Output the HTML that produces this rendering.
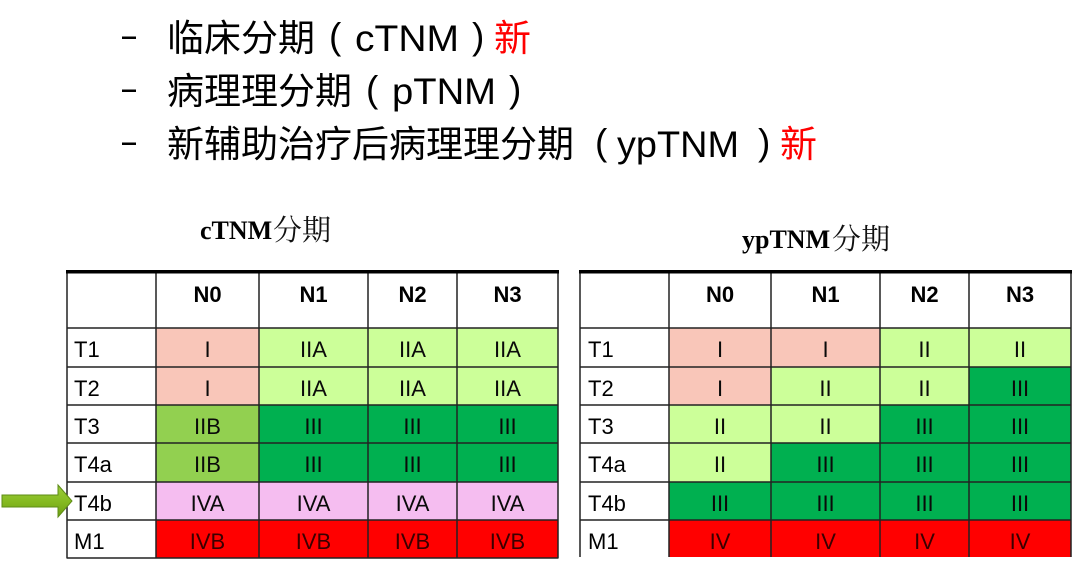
<!DOCTYPE html>
<html>
<head>
<meta charset="utf-8">
<style>
  html, body { margin: 0; padding: 0; background: #ffffff; }
  body { width: 1080px; height: 568px; overflow: hidden; }
  svg { display: block; }
  .cjk { font-family: "Liberation Sans", "Noto Sans CJK SC", sans-serif; font-size: 37px; fill: #000; }
  .lat { font-family: "Liberation Sans", sans-serif; font-size: 37px; fill: #000; }
  .red { fill: #ff0000; }
  .tlat { font-family: "Liberation Serif", serif; font-weight: bold; font-size: 26px; fill: #000; }
  .tcjk { font-family: "Liberation Serif", "Noto Serif CJK SC", serif; font-size: 29px; fill: #111; }
  .cell { font-family: "Liberation Sans", sans-serif; font-size: 22px; fill: #0a0a0a; text-anchor: middle; }
  .hdr { font-family: "Liberation Sans", sans-serif; font-size: 22px; font-weight: bold; fill: #000; text-anchor: middle; }
  .lbl { font-family: "Liberation Sans", sans-serif; font-size: 22px; fill: #000; }
</style>
</head>
<body>
<svg width="1080" height="568" viewBox="0 0 1080 568" xmlns="http://www.w3.org/2000/svg">
  <defs>
    <linearGradient id="ag" x1="0" y1="0" x2="0" y2="1">
      <stop offset="0" stop-color="#9ccd3c"/>
      <stop offset="0.5" stop-color="#86bb22"/>
      <stop offset="1" stop-color="#6e9f12"/>
    </linearGradient>
  </defs>

  <!-- Top bullet lines -->
  <rect x="122" y="36.5" width="14" height="2.5" fill="#000"/>
  <text class="cjk" x="167" y="51">临床分期</text>
  <text class="lat" x="329" y="49">(</text>
  <text class="lat" x="355" y="51" textLength="104" lengthAdjust="spacingAndGlyphs">cTNM</text>
  <text class="lat" x="472" y="49">)</text>
  <text class="cjk red" x="494" y="51">新</text>

  <rect x="122" y="89.5" width="14" height="2.5" fill="#000"/>
  <text class="cjk" x="167" y="104">病理理分期</text>
  <text class="lat" x="366" y="102">(</text>
  <text class="lat" x="392" y="104" textLength="104" lengthAdjust="spacingAndGlyphs">pTNM</text>
  <text class="lat" x="509" y="102">)</text>

  <rect x="122" y="142.5" width="14" height="2.5" fill="#000"/>
  <text class="cjk" x="167" y="157">新辅助治疗后病理理分期</text>
  <text class="lat" x="595" y="155">(</text>
  <text class="lat" x="617" y="157" textLength="122" lengthAdjust="spacingAndGlyphs">ypTNM</text>
  <text class="lat" x="758" y="155">)</text>
  <text class="cjk red" x="780" y="157">新</text>

  <!-- Titles -->
  <text x="200" y="239"><tspan class="tlat">cTNM</tspan><tspan class="tcjk" x="273" y="240">分期</tspan></text>
  <text x="742" y="248"><tspan class="tlat">ypTNM</tspan><tspan class="tcjk" x="832" y="249">分期</tspan></text>

  <!-- ===== Left table backgrounds ===== -->
  <g>
    <rect x="156" y="328" width="103" height="77" fill="#f9c6b9"/>
    <rect x="259" y="328" width="299" height="77" fill="#ccff99"/>
    <rect x="156" y="405" width="103" height="77" fill="#92d050"/>
    <rect x="259" y="405" width="299" height="77" fill="#00b050"/>
    <rect x="156" y="482" width="402" height="38" fill="#f5bdf0"/>
    <rect x="156" y="520" width="402" height="38" fill="#ff0000"/>
  </g>

  <!-- ===== Right table backgrounds ===== -->
  <g>
    <rect x="669" y="328" width="211" height="39" fill="#f9c6b9"/>
    <rect x="880" y="328" width="191" height="39" fill="#ccff99"/>
    <rect x="669" y="367" width="102" height="38" fill="#f9c6b9"/>
    <rect x="771" y="367" width="198" height="38" fill="#ccff99"/>
    <rect x="969" y="367" width="102" height="38" fill="#00b050"/>
    <rect x="669" y="405" width="211" height="38" fill="#ccff99"/>
    <rect x="880" y="405" width="191" height="38" fill="#00b050"/>
    <rect x="669" y="443" width="102" height="39" fill="#ccff99"/>
    <rect x="771" y="443" width="300" height="39" fill="#00b050"/>
    <rect x="669" y="482" width="402" height="38" fill="#00b050"/>
    <rect x="669" y="520" width="402" height="37" fill="#ff0000"/>
  </g>

  <!-- ===== Grid lines left ===== -->
  <g stroke="#222" stroke-width="1.5" fill="none">
    <line x1="67" y1="272" x2="67" y2="558.5"/>
    <line x1="156" y1="272" x2="156" y2="558.5"/>
    <line x1="259" y1="272" x2="259" y2="558.5"/>
    <line x1="368" y1="272" x2="368" y2="558.5"/>
    <line x1="457" y1="272" x2="457" y2="558.5"/>
    <line x1="558" y1="272" x2="558" y2="558.5"/>
    <line x1="67" y1="328" x2="558" y2="328"/>
    <line x1="67" y1="367" x2="558" y2="367"/>
    <line x1="67" y1="405" x2="558" y2="405"/>
    <line x1="67" y1="443" x2="558" y2="443"/>
    <line x1="67" y1="482" x2="558" y2="482"/>
    <line x1="67" y1="520" x2="558" y2="520"/>
    <line x1="67" y1="558" x2="558" y2="558"/>
  </g>
  <rect x="66" y="270" width="493" height="3.5" fill="#000"/>

  <!-- ===== Grid lines right ===== -->
  <g stroke="#222" stroke-width="1.5" fill="none">
    <line x1="580" y1="272" x2="580" y2="557"/>
    <line x1="669" y1="272" x2="669" y2="557"/>
    <line x1="771" y1="272" x2="771" y2="557"/>
    <line x1="880" y1="272" x2="880" y2="557"/>
    <line x1="969" y1="272" x2="969" y2="557"/>
    <line x1="1071" y1="272" x2="1071" y2="557"/>
    <line x1="580" y1="328" x2="1071" y2="328"/>
    <line x1="580" y1="367" x2="1071" y2="367"/>
    <line x1="580" y1="405" x2="1071" y2="405"/>
    <line x1="580" y1="443" x2="1071" y2="443"/>
    <line x1="580" y1="482" x2="1071" y2="482"/>
    <line x1="580" y1="520" x2="1071" y2="520"/>
  </g>
  <rect x="579" y="270" width="493" height="3.5" fill="#000"/>

  <!-- ===== Left table text ===== -->
  <text class="hdr" x="207.5" y="302">N0</text>
  <text class="hdr" x="313.5" y="302">N1</text>
  <text class="hdr" x="412.5" y="302">N2</text>
  <text class="hdr" x="507.5" y="302">N3</text>

  <text class="lbl" x="74" y="357">T1</text>
  <text class="lbl" x="74" y="396">T2</text>
  <text class="lbl" x="74" y="434">T3</text>
  <text class="lbl" x="74" y="472">T4a</text>
  <text class="lbl" x="74" y="511">T4b</text>
  <text class="lbl" x="74" y="549">M1</text>

  <text class="cell" x="207.5" y="357">I</text>
  <text class="cell" x="313.5" y="357">IIA</text>
  <text class="cell" x="412.5" y="357">IIA</text>
  <text class="cell" x="507.5" y="357">IIA</text>

  <text class="cell" x="207.5" y="396">I</text>
  <text class="cell" x="313.5" y="396">IIA</text>
  <text class="cell" x="412.5" y="396">IIA</text>
  <text class="cell" x="507.5" y="396">IIA</text>

  <text class="cell" x="207.5" y="434">IIB</text>
  <text class="cell" x="313.5" y="434">III</text>
  <text class="cell" x="412.5" y="434">III</text>
  <text class="cell" x="507.5" y="434">III</text>

  <text class="cell" x="207.5" y="472">IIB</text>
  <text class="cell" x="313.5" y="472">III</text>
  <text class="cell" x="412.5" y="472">III</text>
  <text class="cell" x="507.5" y="472">III</text>

  <text class="cell" x="207.5" y="511">IVA</text>
  <text class="cell" x="313.5" y="511">IVA</text>
  <text class="cell" x="412.5" y="511">IVA</text>
  <text class="cell" x="507.5" y="511">IVA</text>

  <text class="cell" x="207.5" y="549" style="fill:#3a0000">IVB</text>
  <text class="cell" x="313.5" y="549" style="fill:#3a0000">IVB</text>
  <text class="cell" x="412.5" y="549" style="fill:#3a0000">IVB</text>
  <text class="cell" x="507.5" y="549" style="fill:#3a0000">IVB</text>

  <!-- ===== Right table text ===== -->
  <text class="hdr" x="720" y="302">N0</text>
  <text class="hdr" x="825.5" y="302">N1</text>
  <text class="hdr" x="924.5" y="302">N2</text>
  <text class="hdr" x="1020" y="302">N3</text>

  <text class="lbl" x="588" y="357">T1</text>
  <text class="lbl" x="588" y="396">T2</text>
  <text class="lbl" x="588" y="434">T3</text>
  <text class="lbl" x="588" y="472">T4a</text>
  <text class="lbl" x="588" y="511">T4b</text>
  <text class="lbl" x="588" y="549">M1</text>

  <text class="cell" x="720" y="357">I</text>
  <text class="cell" x="825.5" y="357">I</text>
  <text class="cell" x="924.5" y="357">II</text>
  <text class="cell" x="1020" y="357">II</text>

  <text class="cell" x="720" y="396">I</text>
  <text class="cell" x="825.5" y="396">II</text>
  <text class="cell" x="924.5" y="396">II</text>
  <text class="cell" x="1020" y="396">III</text>

  <text class="cell" x="720" y="434">II</text>
  <text class="cell" x="825.5" y="434">II</text>
  <text class="cell" x="924.5" y="434">III</text>
  <text class="cell" x="1020" y="434">III</text>

  <text class="cell" x="720" y="472">II</text>
  <text class="cell" x="825.5" y="472">III</text>
  <text class="cell" x="924.5" y="472">III</text>
  <text class="cell" x="1020" y="472">III</text>

  <text class="cell" x="720" y="511">III</text>
  <text class="cell" x="825.5" y="511">III</text>
  <text class="cell" x="924.5" y="511">III</text>
  <text class="cell" x="1020" y="511">III</text>

  <text class="cell" x="720" y="549" style="fill:#3a0000">IV</text>
  <text class="cell" x="825.5" y="549" style="fill:#3a0000">IV</text>
  <text class="cell" x="924.5" y="549" style="fill:#3a0000">IV</text>
  <text class="cell" x="1020" y="549" style="fill:#3a0000">IV</text>

  <!-- Green arrow -->
  <polygon points="2,495 58,495 58,485 72,501 58,517 58,507 2,507" fill="url(#ag)" stroke="#5e8c16" stroke-width="1"/>
</svg>
</body>
</html>
